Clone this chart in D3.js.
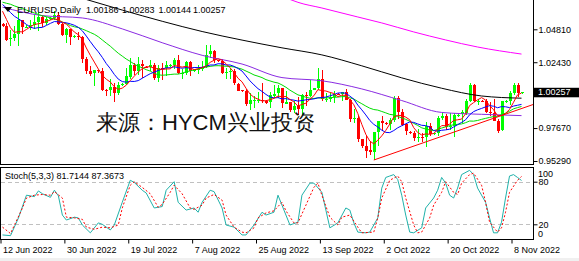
<!DOCTYPE html>
<html>
<head>
<meta charset="utf-8">
<script src="https://cdnjs.cloudflare.com/ajax/libs/d3/7.8.5/d3.min.js"></script>
<style>
  body { margin: 0; background: #fff; }
  svg { display: block; }
  text { font-family: "Liberation Sans", Arial, sans-serif; }
</style>
</head>
<body>
<script>
// daily bars, 12 Jun 2022 (bar 0) .. 10 Nov 2022 (bar 130), Sunday bars included
var opens = [1.0520,1.0506,1.0407,1.0415,1.0447,1.0545,1.0494,1.0500,1.0509,1.0534,
  1.0567,1.0523,1.0555,1.0562,1.0583,1.0519,1.0443,1.0484,1.0426,1.0432,
  1.0425,1.0266,1.0182,1.0162,1.0185,1.0176,1.0040,1.0036,1.0061,1.0019,
  1.0080,1.0086,1.0141,1.0225,1.0179,1.0230,1.0212,1.0206,1.0222,1.0131,
  1.0200,1.0196,1.0221,1.0225,1.0260,1.0165,1.0168,1.0245,1.0181,1.0186,
  1.0196,1.0211,1.0297,1.0322,1.0258,1.0250,1.0160,1.0170,1.0177,1.0088,
  1.0039,1.0032,0.9941,0.9967,0.9968,0.9973,0.9966,0.9950,1.0003,1.0016,
  1.0054,0.9945,0.9956,0.9900,0.9926,0.9903,1.0006,0.9998,1.0042,1.0055,
  1.0122,0.9974,0.9980,0.9994,1.0014,1.0010,1.0027,0.9970,0.9835,0.9838,
  0.9688,0.9640,0.9607,0.9594,0.9737,0.9815,0.9802,0.9800,0.9826,0.9985,
  0.9884,0.9793,0.9740,0.9735,0.9700,0.9705,0.9704,0.9780,0.9720,0.9730,
  0.9840,0.9855,0.9775,0.9780,0.9860,0.9865,0.9880,0.9965,1.0080,0.9965,
  0.9965,0.9960,0.9880,0.9875,0.9820,0.9750,0.9960,0.9962,1.0020,1.0075,
  1.00186];
var highs = [1.0526,1.0525,1.0479,1.0506,1.0601,1.0549,1.0510,1.0546,1.0583,1.0605,
  1.0582,1.0571,1.0570,1.0615,1.0606,1.0530,1.0488,1.0486,1.0440,1.0462,
  1.0429,1.0278,1.0219,1.0188,1.0190,1.0200,1.0050,1.0121,1.0095,1.0097,
  1.0092,1.0200,1.0272,1.0240,1.0278,1.0257,1.0218,1.0258,1.0234,1.0221,
  1.0234,1.0254,1.0230,1.0274,1.0294,1.0195,1.0254,1.0250,1.0190,1.0225,
  1.0249,1.0368,1.0365,1.0329,1.0262,1.0265,1.0202,1.0202,1.0192,1.0091,
  1.0045,1.0049,1.0017,0.9999,1.0030,1.0090,0.9972,1.0028,1.0080,1.0080,
  1.0056,1.0034,0.9956,0.9960,0.9990,1.0011,1.0030,1.0113,1.0060,1.0198,
  1.0187,1.0020,1.0017,1.0037,1.0020,1.0030,1.0050,0.9976,0.9907,0.9852,
  0.9690,0.9708,0.9671,0.9737,0.9816,0.9854,0.9810,0.9838,0.9999,0.9999,
  0.9904,0.9801,0.9745,0.9748,0.9757,0.9734,0.9809,0.9807,0.9735,0.9853,
  0.9875,0.9872,0.9875,0.9873,0.9870,0.9901,0.9975,1.0094,1.0089,0.9978,
  0.9970,0.9976,0.9954,0.9976,0.9835,0.9965,0.9970,1.0033,1.0096,1.0093,
  1.00283];
var lows = [1.0500,1.0397,1.0358,1.0398,1.0359,1.0445,1.0488,1.0479,1.0485,1.0469,
  1.0500,1.0509,1.0550,1.0549,1.0513,1.0433,1.0382,1.0366,1.0418,1.0406,
  1.0236,1.0161,1.0143,1.0072,1.0168,1.0033,0.9999,0.9998,0.9952,1.0006,
  1.0072,1.0080,1.0122,1.0153,1.0150,1.0130,1.0200,1.0182,1.0111,1.0098,
  1.0114,1.0146,1.0212,1.0197,1.0161,1.0123,1.0153,1.0142,1.0172,1.0160,
  1.0176,1.0203,1.0274,1.0239,1.0245,1.0158,1.0123,1.0121,1.0078,1.0033,
  1.0025,0.9926,0.9900,0.9912,0.9947,0.9950,0.9940,0.9913,0.9984,0.9985,
  0.9910,0.9943,0.9880,0.9877,0.9865,0.9864,0.9929,0.9995,1.0040,1.0043,
  0.9966,0.9955,0.9954,0.9945,1.0005,0.9966,0.9967,0.9810,0.9807,0.9667,
  0.9620,0.9553,0.9570,0.9536,0.9634,0.9749,0.9790,0.9750,0.9814,0.9834,
  0.9781,0.9719,0.9725,0.9671,0.9667,0.9667,0.9632,0.9713,0.9715,0.9712,
  0.9822,0.9755,0.9750,0.9705,0.9850,0.9807,0.9859,0.9958,0.9955,0.9935,
  0.9955,0.9873,0.9852,0.9815,0.9730,0.9746,0.9950,0.9937,1.0003,0.9993,
  1.00144];
var closes = [1.0506,1.0407,1.0415,1.0447,1.0545,1.0494,1.0500,1.0509,1.0534,1.0567,
  1.0523,1.0555,1.0562,1.0583,1.0519,1.0443,1.0484,1.0426,1.0432,1.0425,
  1.0266,1.0182,1.0162,1.0185,1.0176,1.0040,1.0036,1.0061,1.0019,1.0080,
  1.0086,1.0141,1.0225,1.0179,1.0230,1.0212,1.0206,1.0222,1.0131,1.0200,
  1.0196,1.0221,1.0225,1.0260,1.0165,1.0168,1.0245,1.0181,1.0186,1.0196,
  1.0211,1.0297,1.0322,1.0258,1.0250,1.0160,1.0170,1.0177,1.0088,1.0039,
  1.0032,0.9941,0.9967,0.9968,0.9973,0.9966,0.9950,1.0003,1.0016,1.0054,
  0.9945,0.9956,0.9900,0.9926,0.9903,1.0006,0.9998,1.0042,1.0055,1.0122,
  0.9974,0.9980,0.9994,1.0014,1.0010,1.0027,0.9970,0.9835,0.9838,0.9688,
  0.9640,0.9607,0.9594,0.9737,0.9815,0.9802,0.9800,0.9826,0.9985,0.9884,
  0.9793,0.9740,0.9735,0.9700,0.9705,0.9704,0.9780,0.9720,0.9730,0.9840,
  0.9855,0.9775,0.9780,0.9860,0.9865,0.9880,0.9965,1.0080,0.9965,0.9965,
  0.9960,0.9880,0.9875,0.9820,0.9750,0.9960,0.9962,1.0020,1.0075,1.0019,
  1.00257];

// moving averages read per bar (red 5, blue 10, green 20)
var maRed = [1.0612,1.0552,1.0492,1.0459,1.0464,1.0462,1.0480,1.0499,1.0516,1.0521,
  1.0527,1.0538,1.0548,1.0558,1.0548,1.0532,1.0518,1.0491,1.0461,1.0442,
  1.0407,1.0346,1.0293,1.0244,1.0194,1.0149,1.0120,1.0100,1.0066,1.0047,
  1.0056,1.0077,1.0110,1.0142,1.0172,1.0197,1.0210,1.0210,1.0200,1.0194,
  1.0191,1.0194,1.0195,1.0220,1.0213,1.0208,1.0213,1.0204,1.0189,1.0195,
  1.0204,1.0214,1.0242,1.0257,1.0268,1.0257,1.0232,1.0203,1.0169,1.0127,
  1.0101,1.0055,1.0013,0.9989,0.9976,0.9963,0.9965,0.9972,0.9982,0.9998,
  0.9994,0.9995,0.9974,0.9956,0.9926,0.9938,0.9947,0.9975,1.0001,1.0045,
  1.0038,1.0035,1.0025,1.0017,0.9994,1.0005,1.0003,0.9971,0.9936,0.9872,
  0.9794,0.9722,0.9673,0.9653,0.9679,0.9711,0.9750,0.9796,0.9846,0.9859,
  0.9858,0.9846,0.9827,0.9770,0.9735,0.9717,0.9725,0.9722,0.9728,0.9755,
  0.9785,0.9784,0.9796,0.9822,0.9827,0.9832,0.9870,0.9930,0.9951,0.9971,
  0.9987,0.9970,0.9929,0.9900,0.9857,0.9857,0.9873,0.9902,0.9953,1.0007,
  1.0020];
var maBlue = [1.0660,1.0635,1.0602,1.0575,1.0557,1.0537,1.0516,1.0496,1.0488,1.0493,
  1.0495,1.0509,1.0524,1.0537,1.0535,1.0530,1.0528,1.0520,1.0510,1.0495,
  1.0470,1.0432,1.0392,1.0353,1.0318,1.0278,1.0233,1.0197,1.0155,1.0121,
  1.0103,1.0099,1.0105,1.0104,1.0110,1.0127,1.0144,1.0160,1.0171,1.0183,
  1.0194,1.0202,1.0203,1.0210,1.0204,1.0200,1.0204,1.0200,1.0205,1.0204,
  1.0206,1.0214,1.0223,1.0223,1.0232,1.0231,1.0223,1.0223,1.0213,1.0198,
  1.0179,1.0144,1.0108,1.0079,1.0052,1.0032,1.0010,0.9992,0.9985,0.9987,
  0.9978,0.9980,0.9973,0.9969,0.9962,0.9966,0.9971,0.9974,0.9978,0.9985,
  0.9988,0.9991,1.0000,1.0009,1.0020,1.0022,1.0019,0.9998,0.9976,0.9933,
  0.9899,0.9862,0.9822,0.9794,0.9775,0.9752,0.9736,0.9734,0.9749,0.9769,
  0.9784,0.9798,0.9811,0.9808,0.9797,0.9787,0.9785,0.9774,0.9749,0.9745,
  0.9751,0.9754,0.9759,0.9775,0.9791,0.9808,0.9827,0.9863,0.9886,0.9899,
  0.9909,0.9920,0.9929,0.9925,0.9914,0.9922,0.9921,0.9915,0.9926,0.9932,
  0.9938];
var maGreen = [1.0677,1.0669,1.0662,1.0650,1.0640,1.0631,1.0620,1.0609,1.0599,1.0588,
  1.0578,1.0572,1.0563,1.0556,1.0546,1.0534,1.0522,1.0508,1.0499,1.0494,
  1.0483,1.0471,1.0458,1.0445,1.0427,1.0404,1.0381,1.0359,1.0333,1.0308,
  1.0287,1.0266,1.0249,1.0229,1.0214,1.0203,1.0189,1.0179,1.0163,1.0152,
  1.0149,1.0151,1.0154,1.0157,1.0157,1.0164,1.0174,1.0180,1.0188,1.0194,
  1.0200,1.0208,1.0213,1.0217,1.0218,1.0216,1.0214,1.0212,1.0209,1.0201,
  1.0193,1.0179,1.0166,1.0151,1.0142,1.0132,1.0117,1.0108,1.0099,1.0093,
  1.0079,1.0062,1.0041,1.0024,1.0007,0.9999,0.9990,0.9983,0.9981,0.9986,
  0.9983,0.9985,0.9986,0.9989,0.9991,0.9994,0.9995,0.9986,0.9977,0.9959,
  0.9943,0.9926,0.9911,0.9901,0.9897,0.9887,0.9877,0.9866,0.9862,0.9851,
  0.9841,0.9830,0.9816,0.9801,0.9786,0.9769,0.9760,0.9754,0.9749,0.9757,
  0.9767,0.9776,0.9785,0.9791,0.9794,0.9797,0.9806,0.9818,0.9817,0.9822,
  0.9830,0.9837,0.9844,0.9850,0.9852,0.9865,0.9874,0.9889,0.9906,0.9915,
  0.9923];

// slow averages, read at sample bars [bar, value]
var maPurple = [[0,1.0641],[10,1.0580],[20,1.0563],[30,1.0484],[40,1.0384],[50,1.0293],[60,1.0230],
  [70,1.0132],[80,1.0109],[90,1.0050],[100,0.9966],[110,0.9880],[120,0.98665],[130,0.9857]];
var maBlack = [[20,1.0705],[30,1.0620],[40,1.0539],[50,1.0465],[60,1.0403],[70,1.0347],[80,1.0296],
  [90,1.0217],[100,1.0130],[110,1.0055],[120,0.9999],[130,0.9983]];
var maMagenta = [[72,1.0697],[74,1.0676],[80,1.0635],[89,1.0570],[95,1.0527],[103,1.0462],[111,1.0404],
  [119,1.0353],[130,1.0302]];

var trendPts = [[93,0.9536],[130,0.9908]];

var stochK = [[0,5],[2,4],[4,29],[6,61],[8,59],[9,67],[10,63],[12,58],[13,68],[14,60],[15,33],[16,26],
  [18,30],[19,29],[20,19],[22,8],[24,22],[25,20],[27,12],[28,19],[30,51],[32,82],[33,79],[35,68],[36,64],
  [38,43],[40,45],[41,68],[43,80],[44,51],[46,40],[48,43],[49,37],[50,51],[52,68],[53,66],[55,43],[56,19],
  [58,16],[60,5],[61,5],[63,19],[65,37],[66,33],[68,37],[69,61],[70,47],[72,19],[74,23],[75,61],[77,78],
  [78,78],[80,65],[82,15],[84,22],[86,43],[87,40],[88,22],[89,9],[91,8],[92,9],[94,29],[95,71],[96,86],
  [97,88],[98,90],[99,83],[100,61],[101,33],[102,9],[103,8],[105,15],[106,43],[108,57],[109,68],[110,86],
  [111,78],[112,61],[113,57],[114,71],[115,90],[117,96],[118,90],[119,71],[121,51],[122,29],[123,8],
  [124,8],[125,23],[126,57],[127,88],[128,90],[129,86],[130,81.7144]];
var stochD = [[0,16],[2,7],[5,43],[6,57],[8,61],[10,62],[12,61],[13,66],[15,57],[16,30],[18,29],[20,27],
  [21,16],[23,13],[25,16],[27,15],[29,19],[30,43],[32,75],[33,80],[35,72],[37,63],[39,44],[40,48],[42,65],
  [43,75],[45,63],[47,43],[48,41],[50,47],[51,57],[53,62],[55,54],[56,33],[58,16],[60,9],[61,8],[63,15],
  [64,29],[66,36],[68,39],[70,51],[71,39],[73,22],[74,22],[76,47],[78,72],[79,78],[80,61],[82,30],[84,19],
  [85,30],[87,33],[89,16],[90,8],[93,9],[94,29],[95,57],[97,82],[99,88],[100,80],[101,57],[103,19],[104,8],
  [105,9],[107,29],[108,47],[110,65],[111,80],[113,65],[114,62],[115,78],[117,90],[118,92],[120,75],
  [121,51],[122,23],[124,9],[125,15],[126,37],[127,65],[129,82],[130,87.3673]];

// 1.00050 sits under the current price box, so it is not labelled
var priceTicks = [1.04810, 1.02430, 0.97670, 0.95290];
var stochLevels = [80, 20];
var dateBars = [0, 16, 32, 48, 64, 80, 96, 112, 128];
var dateLabels = ['12 Jun 2022', '30 Jun 2022', '19 Jul 2022', '7 Aug 2022', '25 Aug 2022',
  '13 Sep 2022', '2 Oct 2022', '20 Oct 2022', '8 Nov 2022'];

var W = 579, H = 261;
var svg = d3.select('body').append('svg').attr('width', W).attr('height', H);
svg.append('rect').attr('width', W).attr('height', H).attr('fill', '#fff');
svg.append('rect').attr('x', 0).attr('y', 258).attr('width', W).attr('height', 3).attr('fill', '#f0f0f0');

var x = d3.scaleLinear().domain([0, 130]).range([2.5, 521.5]);
var y = d3.scaleLinear().domain([0.95073, 1.06928]).range([164, 0]);
var ys = d3.scaleLinear().domain([0, 100]).range([238.5, 167.5]);

var defs = svg.append('defs');
defs.append('clipPath').attr('id', 'clipMain').append('rect')
    .attr('x', 1).attr('y', 0).attr('width', 532).attr('height', 164);
defs.append('clipPath').attr('id', 'clipSub').append('rect')
    .attr('x', 1).attr('y', 168).attr('width', 532).attr('height', 71);

var bars = closes.map(function(c, i) {
  return {i: i, o: opens[i], h: highs[i], l: lows[i], c: c};
});
function barColor(d) { return d.c >= d.o ? '#00ff00' : '#ff0000'; }

var main = svg.append('g').attr('clip-path', 'url(#clipMain)');
main.selectAll('.wick').data(bars).enter().append('line')
    .attr('class', 'wick')
    .attr('x1', function(d) { return Math.round(x(d.i)) + 0.5; })
    .attr('x2', function(d) { return Math.round(x(d.i)) + 0.5; })
    .attr('y1', function(d) { return y(d.h); })
    .attr('y2', function(d) { return y(d.l); })
    .attr('stroke', barColor)
    .attr('shape-rendering', 'crispEdges');
main.selectAll('.body').data(bars).enter().append('rect')
    .attr('class', 'body')
    .attr('x', function(d) { return Math.round(x(d.i)) - 1; })
    .attr('width', 3)
    .attr('y', function(d) { return Math.round(y(Math.max(d.o, d.c))); })
    .attr('height', function(d) { return Math.max(1, Math.round(Math.abs(y(d.o) - y(d.c)))); })
    .attr('fill', barColor)
    .attr('shape-rendering', 'crispEdges');

var lineBar = d3.line().x(function(d, i) { return x(i); }).y(function(d) { return y(d); });
var linePts = d3.line().x(function(d) { return x(d[0]); }).y(function(d) { return y(d[1]); })
    .curve(d3.curveMonotoneX);

[[maMagenta, '#ff00ff'], [maBlack, '#000000'], [maPurple, '#8a2be2']].forEach(function(s) {
  main.append('path').attr('d', linePts(s[0])).attr('fill', 'none')
      .attr('stroke', s[1]).attr('stroke-width', 1);
});
[[maGreen, '#00dd00'], [maBlue, '#0000ff'], [maRed, '#ff0000']].forEach(function(s) {
  main.append('path').attr('d', lineBar(s[0])).attr('fill', 'none')
      .attr('stroke', s[1]).attr('stroke-width', 1);
});

// trend line, extended to the right edge
var slope = (trendPts[1][1] - trendPts[0][1]) / (trendPts[1][0] - trendPts[0][0]);
var iEdge = x.invert(533);
main.append('line')
    .attr('x1', x(trendPts[0][0])).attr('y1', y(trendPts[0][1]))
    .attr('x2', 533).attr('y2', y(trendPts[0][1] + slope * (iEdge - trendPts[0][0])))
    .attr('stroke', '#ff0000').attr('stroke-width', 1);

// stochastic window
var sub = svg.append('g').attr('clip-path', 'url(#clipSub)');
sub.selectAll('.lvl').data(stochLevels).enter().append('line')
    .attr('x1', 1).attr('x2', 533)
    .attr('y1', function(d) { return Math.round(ys(d)) + 0.5; })
    .attr('y2', function(d) { return Math.round(ys(d)) + 0.5; })
    .attr('stroke', '#c0c0c0').attr('stroke-dasharray', '4,3');
var lineS = d3.line().x(function(d) { return x(d[0]); }).y(function(d) { return ys(d[1]); });
sub.append('path').attr('d', lineS(stochK)).attr('fill', 'none')
    .attr('stroke', '#20b2aa').attr('stroke-width', 1);
sub.append('path').attr('d', lineS(stochD)).attr('fill', 'none')
    .attr('stroke', '#ff0000').attr('stroke-width', 1).attr('stroke-dasharray', '2,2');

// frames
var frame = svg.append('g').attr('stroke', '#000').attr('fill', 'none').attr('shape-rendering', 'crispEdges');
frame.append('path').attr('d', 'M0.5,0V164.5H533.5V0');
frame.append('path').attr('d', 'M0.5,167.5H533.5V239.5H0.5Z');

// price axis
var yAxis = svg.append('g').attr('transform', 'translate(533.5,0)')
    .call(d3.axisRight(y).tickValues(priceTicks).tickSize(4).tickPadding(1)
      .tickFormat(d3.format('.5f')));
yAxis.select('.domain').remove();
yAxis.selectAll('text').attr('font-size', 9).attr('font-family', '"Liberation Sans", Arial, sans-serif')
    .attr('fill', '#000');

var last = bars[bars.length - 1];
svg.append('rect').attr('x', 533).attr('y', y(last.c) - 4.5).attr('width', 46).attr('height', 9.5)
    .attr('fill', '#000');
svg.append('text').attr('x', 538).attr('y', y(last.c)).attr('dy', '0.35em')
    .attr('font-size', 9).attr('fill', '#fff').text(last.c.toFixed(5));

// stochastic axis
var sAxis = svg.append('g').attr('transform', 'translate(533.5,0)')
    .call(d3.axisRight(ys).tickValues(stochLevels).tickSize(4).tickPadding(1));
sAxis.select('.domain').remove();
sAxis.selectAll('text').attr('font-size', 9).attr('font-family', '"Liberation Sans", Arial, sans-serif')
    .attr('fill', '#000');
svg.append('text').attr('x', 538).attr('y', ys(100) + 9).attr('font-size', 9).text('100');
svg.append('text').attr('x', 538).attr('y', ys(0) - 2).attr('font-size', 9).text('0');

// date axis
var xAxis = svg.append('g').attr('transform', 'translate(-2,239.5)')
    .call(d3.axisBottom(x).tickValues(dateBars).tickSize(4).tickPadding(3)
      .tickFormat(function(d, i) { return dateLabels[i]; }));
xAxis.select('.domain').remove();
xAxis.selectAll('text').attr('font-size', 9).attr('font-family', '"Liberation Sans", Arial, sans-serif')
    .attr('fill', '#000').attr('text-anchor', 'start').attr('x', 2);

// headers
svg.append('path').attr('d', 'M4,7H12L8,12Z').attr('fill', '#000');
svg.append('text').attr('x', 17).attr('y', 13).attr('font-size', 9.5).text('EURUSD,Daily');
var hx = [86, 122, 158.5, 193];
[last.o, last.h, last.l, last.c].forEach(function(v, k) {
  svg.append('text').attr('x', hx[k]).attr('y', 13).attr('font-size', 9).text(v.toFixed(5));
});
svg.append('text').attr('x', 5).attr('y', 179).attr('font-size', 9)
    .text('Stoch(5,3,3) ' + stochK[stochK.length - 1][1].toFixed(4) + ' ' +
          stochD[stochD.length - 1][1].toFixed(4));

svg.append('text').attr('x', 96).attr('y', 130)
    .attr('font-family', '"Noto Sans CJK SC", sans-serif').attr('font-size', 22)
    .attr('fill', '#111').text('来源：HYCM兴业投资');
</script>
</body>
</html>
